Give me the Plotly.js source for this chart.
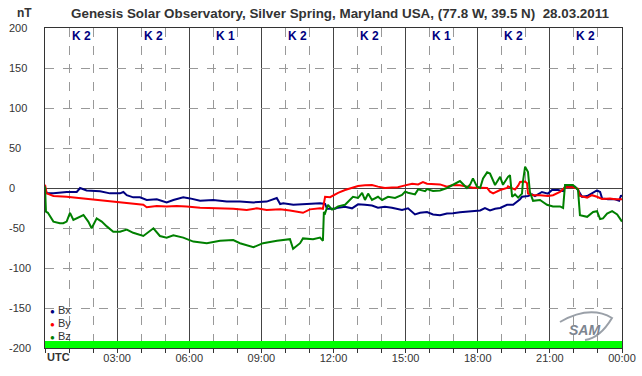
<!DOCTYPE html>
<html><head><meta charset="utf-8">
<script src="https://cdn.plot.ly/plotly-3.0.1.min.js"></script>
<style>html,body{margin:0;padding:0;background:#fff}#chart{width:642px;height:376px}</style>
</head><body><div id="chart"></div>
<script>
// [hour UTC, nT]
const bxData = [[0,-1],[0.08,-6.7],[0.35,-6.7],[0.9,-5],[1.32,-5],[1.46,0],[1.73,-3],[2.29,-4],[2.7,-6.7],[3.12,-6.7],[3.26,-5],[3.4,-9],[3.67,-11.7],[3.95,-11.7],[4.23,-15],[4.65,-14],[5.06,-18],[5.34,-15],[5.75,-11.7],[6.03,-13],[6.45,-16],[7.0,-15],[7.56,-17],[8.11,-17],[8.67,-18],[9.22,-17],[9.64,-12.5],[9.78,-20],[9.91,-19],[10.33,-21],[10.89,-20],[11.44,-19],[11.65,-20],[11.73,-26],[11.86,-26],[12.06,-26],[12.19,-24.6],[12.48,-23.5],[12.77,-25.4],[13.02,-20.4],[13.31,-21],[13.6,-22],[13.85,-24.6],[14.14,-23.5],[14.43,-24.6],[14.85,-27.5],[15.1,-25.4],[15.39,-33],[15.6,-31],[15.89,-30],[16.14,-33],[16.43,-34],[16.72,-32],[16.97,-31.7],[17.26,-30.4],[17.55,-29.6],[17.8,-29],[18.1,-28],[18.3,-25],[18.51,-28],[18.72,-26],[18.93,-25],[19.22,-21],[19.47,-21],[19.76,-14],[19.84,-11],[20.09,-10],[20.26,-8],[20.38,-10],[20.67,-5],[20.92,-7],[21.09,-2.5],[21.34,-2.5],[21.55,-4],[21.63,1.7],[22.05,1.7],[22.17,-2.5],[22.34,-11],[22.55,-10],[22.75,-6.7],[22.96,-3],[23.09,-5],[23.17,-13],[23.42,-14],[23.71,-14],[23.88,-16],[23.96,-9],[24,-11]];
const byData = [[0,4],[0.07,-6.7],[0.35,-10],[0.9,-10.8],[1.6,-13],[2.29,-15],[2.84,-17],[3.12,-18.3],[3.67,-19],[4.09,-21],[4.23,-24],[4.65,-22.5],[5.06,-23],[5.48,-22.5],[5.89,-23],[6.45,-24.6],[7.14,-25.4],[7.83,-26],[8.39,-27.5],[8.81,-25.4],[9.22,-27.5],[9.78,-26.7],[10.19,-28],[10.61,-29.6],[10.73,-31],[11.02,-26.7],[11.44,-25.4],[11.56,-26],[11.65,-11],[11.86,-11.5],[12.06,-8],[12.19,-6],[12.48,-2.5],[12.77,0],[13.02,2.5],[13.31,3.3],[13.6,3.8],[13.85,1.7],[14.14,0],[14.43,0.5],[14.68,1],[14.98,3.3],[15.27,5.4],[15.52,4.5],[15.72,7.5],[15.89,5.4],[16.14,5],[16.43,4.5],[16.72,1.7],[16.97,3.75],[17.26,3.5],[17.55,1.7],[17.8,0.4],[18.1,0.4],[18.39,0],[18.51,-4.6],[18.64,-6.7],[18.93,-2.5],[19.22,0],[19.26,2],[19.43,0],[19.55,-2],[19.68,3],[19.76,7.5],[19.97,8],[20.05,6],[20.09,-7],[20.3,-9],[20.59,-9],[20.92,-10],[21.13,-9],[21.42,-5],[21.63,1],[21.96,1],[22.17,-1],[22.25,-10],[22.55,-12],[22.75,-9],[22.96,-11],[23.17,-13.75],[23.5,-13],[23.71,-14],[24,-14]];
const bzData = [[0,2],[0.04,-29.6],[0.12,-31],[0.35,-42],[0.62,-44],[0.76,-44],[0.9,-42],[1.04,-31],[1.18,-40],[1.32,-38],[1.6,-33.75],[1.8,-42],[1.94,-50.4],[2.15,-38],[2.36,-42],[2.57,-48],[2.84,-54.6],[3.12,-54.6],[3.4,-52],[3.67,-56],[4.09,-60],[4.51,-50.4],[4.78,-60],[5.06,-62],[5.34,-59],[5.75,-62],[6.17,-67],[6.73,-69],[7.28,-66],[7.83,-65],[8.11,-69],[8.67,-74],[9.07,-69],[9.65,-66],[10.19,-64],[10.32,-76],[10.61,-69],[10.73,-63],[11.15,-64],[11.44,-62],[11.56,-66],[11.6,-30],[11.65,-31.7],[11.77,-21],[11.94,-27],[12.06,-25.4],[12.19,-23],[12.48,-21],[12.6,-17],[12.81,-11],[13.02,-12.5],[13.19,-6],[13.31,-15],[13.44,-7],[13.6,-15],[13.85,-11],[14.02,-15],[14.27,-11],[14.56,-12.5],[14.85,-8.75],[14.98,-4.6],[15.1,-6],[15.39,-8],[15.52,-1.7],[15.81,-4],[15.89,-1.3],[16.14,-3.75],[16.43,-3],[16.72,0],[16.97,3.75],[17.26,8.75],[17.55,0],[17.68,4],[17.8,12],[17.97,1.7],[18.1,0],[18.22,12],[18.39,19.6],[18.51,18],[18.72,3.75],[18.93,14],[19.05,4],[19.26,14],[19.34,16],[19.43,-11],[19.55,-8],[19.68,-12],[19.84,-7],[19.88,8],[19.97,26.7],[20.09,20],[20.17,-5],[20.3,-16],[20.59,-15],[20.88,-21],[21.13,-23],[21.42,-23],[21.55,-25],[21.63,3.75],[21.96,3.75],[22.17,-2],[22.25,-34],[22.55,-36],[22.8,-30],[22.96,-29],[23.09,-38.75],[23.21,-38],[23.38,-32],[23.59,-29],[23.8,-33],[24,-42]];

const seriesNames = ['Bx','By','Bz'];
const seriesColors = ['#000080','#ff0000','#008000'];
const kIndex = [2,2,1,2,2,1,2,2];
const kMid = [1.5,4.5,7.5,10.5,13.5,16.5,19.5,22.5];
const xTickVals = [3,6,9,12,15,18,21,24];
const xTickText = ['03:00','06:00','09:00','12:00','15:00','18:00','21:00','00:00'];
const yTickVals = [200,150,100,50,0,-50,-100,-150,-200];

const FONT = 'Liberation Sans, Arial, sans-serif';
const all = [bxData, byData, bzData];
const traces = all.map((d,i)=>({
  type:'scatter', mode:'lines', name:seriesNames[i],
  x:d.map(p=>p[0]), y:d.map(p=>p[1]),
  line:{color:seriesColors[i], width:2}, hoverinfo:'skip'
}));
traces.unshift({
  type:'bar', x:kMid, y:kIndex.map(()=>9), base:-200, width:3,
  marker:{color:'#00ff00', line:{width:0}}, hoverinfo:'skip', showlegend:false
});

const ann = [];
yTickVals.forEach(v=>ann.push({xref:'paper', x:-38/577, xanchor:'left', yref:'y', y:v, yanchor:'middle',
  text:String(v), showarrow:false, font:{family:FONT,size:11,color:'#333'}}));
kIndex.forEach((k,i)=>ann.push({xref:'x', x:kMid[i], yref:'y', y:190, yanchor:'middle', xanchor:'center',
  text:'<b>K '+k+'</b>', showarrow:false, font:{family:FONT,size:12,color:'#000080'}}));
ann.push({xref:'paper', x:-30/577, xanchor:'left', yref:'paper', y:1+15/320, yanchor:'middle',
  text:'<b>nT</b>', showarrow:false, font:{family:FONT,size:12,color:'#333'}});
ann.push({xref:'x', x:0, xanchor:'left', yref:'paper', y:-9/320, yanchor:'middle',
  text:'<b>UTC</b>', showarrow:false, font:{family:FONT,size:11,color:'#333'}});
seriesNames.forEach((n,i)=>ann.push({xref:'paper', x:3/577, xanchor:'left', yref:'paper', y:(348-310-13*i)/320, yanchor:'middle',
  text:'<span style="color:'+seriesColors[i]+';font-size:8px">●</span> '+n, showarrow:false, font:{family:FONT,size:11,color:'#333'}}));
ann.push({xref:'paper', x:(584-45)/577, xanchor:'center', yref:'paper', y:(348-330)/320, yanchor:'middle',
  text:'<b><i>SAM</i></b>', showarrow:false, font:{family:FONT,size:14,color:'#7d8590'}});

const layout = {
  width:642, height:376,
  margin:{l:45, r:20, t:28, b:28, pad:0},
  paper_bgcolor:'#fff', plot_bgcolor:'#fff',
  showlegend:false, bargap:0,
  font:{family:FONT, size:11, color:'#333'},
  title:{text:'<b>Genesis Solar Observatory, Silver Spring, Maryland USA, (77.8 W, 39.5 N)  28.03.2011</b>',
    x:340/642, xanchor:'center', y:1-13/376, yanchor:'middle', font:{family:FONT,size:13.4,color:'#333'}},
  xaxis:{range:[0,24], tickvals:xTickVals, ticktext:xTickText, showgrid:true, gridcolor:'#444', gridwidth:1,
    ticks:'outside', ticklen:4, tickcolor:'#333', showline:true, linecolor:'#333', linewidth:1, mirror:true,
    zeroline:false, tickfont:{family:FONT,size:11,color:'#333'}, ticklabelstandoff:-4, fixedrange:true,
    minor:{dtick:1, tick0:0, ticks:'outside', ticklen:4, tickcolor:'#333', showgrid:true, gridcolor:'#999', griddash:'dash', gridwidth:1}},
  yaxis:{range:[-200,200], tickvals:yTickVals, showticklabels:false, showgrid:true, gridcolor:'#999', griddash:'dash',
    zeroline:true, zerolinecolor:'#444', zerolinewidth:1, showline:true, linecolor:'#333', linewidth:1, mirror:true, ticks:'', fixedrange:true},
  shapes:[{type:'path', xref:'paper', yref:'paper',
    path:'M '+(560-45)/577+','+(348-322)/320+' Q '+(590-45)/577+','+(348-305)/320+' '+(612-45)/577+','+(348-318)/320+' Q '+(600-45)/577+','+(348-338)/320+' '+(585-45)/577+','+(348-340)/320,
    line:{color:'#9aa0a8', width:2}}],
  annotations:ann
};
Plotly.newPlot('chart', traces, layout, {displayModeBar:false, staticPlot:true});
</script></body></html>
